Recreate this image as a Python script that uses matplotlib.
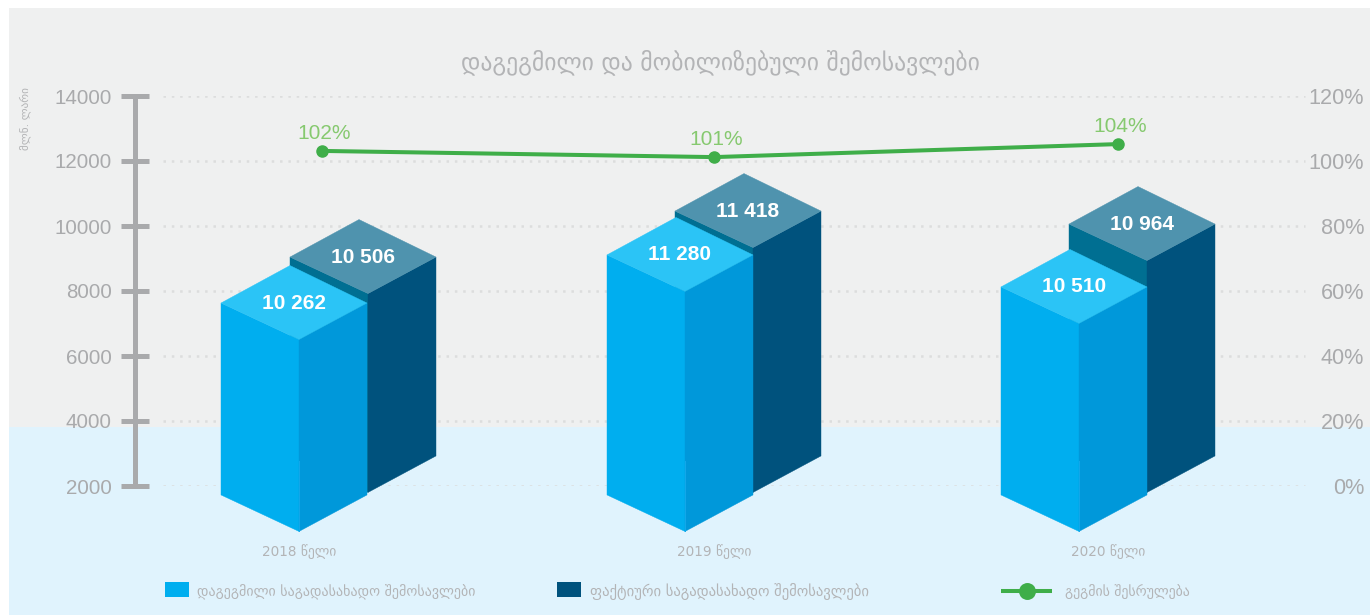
import matplotlib
matplotlib.use('Agg')
import matplotlib.pyplot as plt
from matplotlib.lines import Line2D
from matplotlib.patches import Polygon, Rectangle
from matplotlib.transforms import Affine2D

W, H = 1371, 615

# data
years = ['2018 წელი', '2019 წელი', '2020 წელი']
year_x = [299, 714, 1108]
planned_labels = ['10 262', '11 280', '10 510']
fact_labels = ['10 506', '11 418', '10 964']
# block heights as drawn in the picture (top of the left corner, axis units)
planned_top = [7630, 9110, 8125]
fact_top = [9045, 10460, 10060]
planned_x = [221, 607, 1001]
fact_x = [290, 675, 1069]
planned_base = 1725
fact_base = 2925

line_x = [322, 714, 1118]
execution = [103.1, 101.2, 105.2]
execution_labels = ['102%', '101%', '104%']

left_ticks = [2000, 4000, 6000, 8000, 10000, 12000, 14000]
right_ticks = [0, 20, 40, 60, 80, 100, 120]

title = 'დაგეგმილი და მობილიზებული შემოსავლები'
unit = 'მლნ. ლარი'
legend_names = ['დაგეგმილი საგადასახადო შემოსავლები',
                'ფაქტიური საგადასახადო შემოსავლები',
                'გეგმის შესრულება']

GREY = '#a9aaac'
TEXT = '#b3b4b6'
GREEN = '#3fae49'
LABEL_GREEN = '#86c96f'
NUM_FONT = 'Liberation Sans'
GEO_FONT = 'DejaVu Sans'

fig = plt.figure(figsize=(W / 100, H / 100), dpi=100, facecolor='white')
px = Affine2D().scale(1 / W, -1 / H).translate(0, 1) + fig.transFigure

# two tone background
fig.add_artist(Rectangle((9, 8), 1361, 419, transform=px, fc='#eff0f0', ec='none', zorder=-5))
fig.add_artist(Rectangle((9, 427), 1361, 188, transform=px, fc='#e0f3fd', ec='none', zorder=-5))

ax = fig.add_axes([134.5 / W, (H - 486) / H, (1310 - 134.5) / W, 390 / H])
ax.patch.set_visible(False)
ax.set_xlim(134.5, 1310)
ax.set_ylim(2000, 14000)
for s in ['top', 'right', 'bottom']:
    ax.spines[s].set_visible(False)
ax.spines['left'].set_color(GREY)
ax.spines['left'].set_linewidth(3.6)
ax.spines['left'].set_zorder(1)

ax.set_yticks(left_ticks)
ax.tick_params(axis='y', direction='inout', length=20.5, width=3.6, color=GREY,
               labelcolor=GREY, labelsize=14.8, pad=6.1)
for t in ax.get_yticklabels():
    t.set_fontfamily(NUM_FONT)

ax.set_xticks(year_x)
ax.set_xticklabels(years, family=GEO_FONT, fontsize=9.85, color=TEXT)
ax.tick_params(axis='x', length=0, pad=41.7)

ax.hlines(left_ticks, 163, 1305, colors='#dcdddd', linewidth=1.8,
          linestyles=[(0, (1, 2.33))], zorder=0)

# one axis unit per pixel on y is 2000 / 65
unit_y = 2000 / 65


def box(x, top, base, left_c, right_c, top_c, label):
    # isometric block, corners counted from its left corner
    fx, rx, bx = x + 78, x + 146, x + 69
    dn, up = 36.5 * unit_y, 37.5 * unit_y
    ax.add_patch(Polygon([(x, top), (fx, top - dn), (fx, base - dn), (x, base)],
                         fc=left_c, ec=left_c, lw=0.3, clip_on=False, zorder=2))
    ax.add_patch(Polygon([(fx, top - dn), (rx, top), (rx, base), (fx, base - dn)],
                         fc=right_c, ec=right_c, lw=0.3, clip_on=False, zorder=2))
    ax.add_patch(Polygon([(x, top), (bx, top + up), (rx, top), (fx, top - dn)],
                         fc=top_c, ec=top_c, lw=0.3, clip_on=False, zorder=2))
    ax.text(x + 73, top, label, ha='center', va='center', color='white',
            family=NUM_FONT, fontsize=15, fontweight='bold', zorder=4)
    return fx, base - dn


for i in range(3):
    box(fact_x[i], fact_top[i], fact_base, '#006f92', '#00527d', '#4f93ae', fact_labels[i])
    fx, low = box(planned_x[i], planned_top[i], planned_base, '#00aeef', '#0098da', '#2bc4f6',
                  planned_labels[i])
    # faint seam on the lower part of the front edge
    ax.plot([fx, fx], [low, low + 70 * unit_y], color='#14a8ea', lw=0.7, clip_on=False, zorder=3)

# right axis and plan execution line
ax2 = ax.twinx()
ax2.patch.set_visible(False)
ax2.set_ylim(0, 120)
ax2.set_yticks(right_ticks)
ax2.set_yticklabels([str(v) + '%' for v in right_ticks], family=NUM_FONT)
ax2.tick_params(axis='y', length=0, labelcolor=GREY, labelsize=15.6, pad=39)
for t in ax2.get_yticklabels():
    t.set_ha('right')
for s in ax2.spines.values():
    s.set_visible(False)

ax2.plot(line_x, execution, color=GREEN, lw=2.9, marker='o', ms=8, zorder=5,
         solid_capstyle='butt')
for x, v, lab in zip(line_x, execution, execution_labels):
    ax2.annotate(lab, (x, v), xytext=(1.5, 12.6), textcoords='offset points', ha='center',
                 va='center', color=LABEL_GREEN, family=NUM_FONT, fontsize=15)

# title and unit
fig.text(720 / W, 1 - 62 / H, title, ha='center', va='center', family=GEO_FONT,
         fontsize=17, color=TEXT)
fig.text(25 / W, 1 - 119 / H, unit, ha='center', va='center', rotation=90,
         family=GEO_FONT, fontsize=8, color=TEXT)

# legend
fig.add_artist(Rectangle((165, 582), 24, 15, transform=px, fc='#00aeef', ec='none'))
fig.add_artist(Rectangle((557, 582), 24, 15, transform=px, fc='#00527d', ec='none'))
fig.add_artist(Line2D([1001, 1052], [591, 591], transform=px, color=GREEN, lw=2.9,
                      solid_capstyle='butt'))
fig.add_artist(Line2D([1026.5], [591], transform=px, color=GREEN, marker='o', ms=12.2, mew=0))
for x, name, size in zip([197, 590, 1065], legend_names, [10.1, 10.5, 10.0]):
    fig.text(x / W, 1 - 592 / H, name, ha='left', va='center', family=GEO_FONT,
             fontsize=size, color=TEXT)

fig.savefig('out.png', dpi=100)
